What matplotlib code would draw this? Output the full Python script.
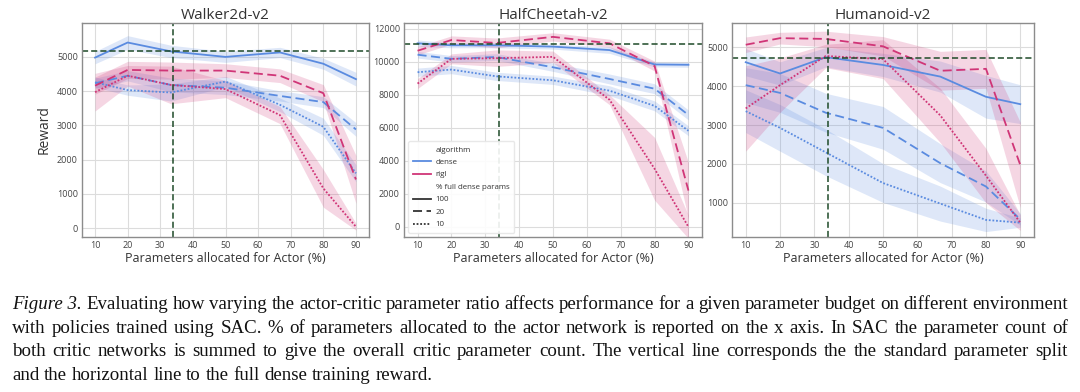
import matplotlib
matplotlib.use("Agg")
import matplotlib.pyplot as plt
from matplotlib.lines import Line2D
import numpy as np

X = [10, 20, 33.3, 50, 66.7, 80, 90]
VLINE_X = 34
ENVS = ["Walker2d-v2", "HalfCheetah-v2", "Humanoid-v2"]

# Walker2d-v2
WALKER_DENSE_100 = [4980, 5420, 5160, 5000, 5130, 4800, 4350]
WALKER_DENSE_100_ERR = [180, 200, 180, 160, 150, 160, 200]
WALKER_DENSE_20 = [4230, 4450, 4180, 4100, 3860, 3680, 2880]
WALKER_DENSE_20_ERR = [150, 150, 200, 200, 150, 160, 200]
WALKER_DENSE_10 = [4260, 4030, 3960, 4280, 3600, 2960, 1600]
WALKER_DENSE_10_ERR = [150, 150, 250, 150, 200, 250, 250]
WALKER_RIGL_20 = [4160, 4620, 4600, 4600, 4450, 3940, 1420]
WALKER_RIGL_20_ERR = [250, 250, 250, 200, 200, 250, 700]
WALKER_RIGL_10 = [3970, 4450, 4180, 4060, 3300, 1160, 40]
WALKER_RIGL_10_ERR = [550, 300, 550, 250, 250, 550, 100]
WALKER_HLINE = 5160

# HalfCheetah-v2
CHEETAH_DENSE_100 = [11120, 11000, 11000, 10920, 10710, 9840, 9820]
CHEETAH_DENSE_100_ERR = [200, 150, 150, 150, 200, 150, 150]
CHEETAH_DENSE_20 = [10430, 10180, 10290, 9670, 8960, 8370, 6780]
CHEETAH_DENSE_20_ERR = [200, 200, 200, 250, 300, 300, 300]
CHEETAH_DENSE_10 = [9370, 9530, 9120, 8880, 8250, 7330, 5820]
CHEETAH_DENSE_10_ERR = [250, 250, 250, 250, 300, 300, 300]
CHEETAH_RIGL_20 = [10670, 11320, 11140, 11510, 11120, 9740, 2200]
CHEETAH_RIGL_20_ERR = [250, 250, 300, 250, 250, 300, 1700]
CHEETAH_RIGL_10 = [8680, 10180, 10220, 10300, 7700, 3520, 0]
CHEETAH_RIGL_10_ERR = [300, 300, 500, 350, 300, 1900, 700]
CHEETAH_HLINE = 11050

# Humanoid-v2
HUMANOID_DENSE_100 = [4620, 4330, 4750, 4550, 4250, 3730, 3540]
HUMANOID_DENSE_100_ERR = [350, 300, 250, 300, 400, 550, 500]
HUMANOID_DENSE_20 = [4030, 3830, 3320, 2930, 2020, 1420, 575]
HUMANOID_DENSE_20_ERR = [450, 500, 500, 550, 500, 400, 150]
HUMANOID_DENSE_10 = [3360, 2930, 2300, 1510, 980, 560, 490]
HUMANOID_DENSE_10_ERR = [550, 600, 600, 500, 450, 300, 120]
HUMANOID_RIGL_20 = [5070, 5240, 5220, 5030, 4400, 4450, 1975]
HUMANOID_RIGL_20_ERR = [200, 150, 200, 250, 500, 500, 1100]
HUMANOID_RIGL_10 = [3430, 4030, 4780, 4700, 3250, 1700, 490]
HUMANOID_RIGL_10_ERR = [1100, 700, 300, 500, 700, 700, 200]
HUMANOID_HLINE = 4730

YLIMS = [(-260, 5990), (-610, 12350), (120, 5630)]
YTICKS = [range(0, 5001, 1000), range(0, 12001, 2000), range(1000, 5001, 1000)]

CAPTION = [
    "Figure 3. Evaluating how varying the actor-critic parameter ratio affects performance for a given parameter budget on different environment",
    "with policies trained using SAC. % of parameters allocated to the actor network is reported on the x axis. In SAC the parameter count of",
    "both critic networks is summed to give the overall critic parameter count. The vertical line corresponds the the standard parameter split",
    "and the horizontal line to the full dense training reward.",
]

DENSE_COLOR = "#5a8be0"
RIGL_COLOR = "#d03577"
REF_COLOR = "#1e4a28"
STYLES = {"100": "-", "20": (0, (5, 2.5)), "10": (0, (1, 1))}

plt.rcParams["font.family"] = ["Open Sans", "DejaVu Sans"]

datos = [
    {"dense": {"100": (WALKER_DENSE_100, WALKER_DENSE_100_ERR),
               "20": (WALKER_DENSE_20, WALKER_DENSE_20_ERR),
               "10": (WALKER_DENSE_10, WALKER_DENSE_10_ERR)},
     "rigl": {"20": (WALKER_RIGL_20, WALKER_RIGL_20_ERR),
              "10": (WALKER_RIGL_10, WALKER_RIGL_10_ERR)},
     "hline": WALKER_HLINE},
    {"dense": {"100": (CHEETAH_DENSE_100, CHEETAH_DENSE_100_ERR),
               "20": (CHEETAH_DENSE_20, CHEETAH_DENSE_20_ERR),
               "10": (CHEETAH_DENSE_10, CHEETAH_DENSE_10_ERR)},
     "rigl": {"20": (CHEETAH_RIGL_20, CHEETAH_RIGL_20_ERR),
              "10": (CHEETAH_RIGL_10, CHEETAH_RIGL_10_ERR)},
     "hline": CHEETAH_HLINE},
    {"dense": {"100": (HUMANOID_DENSE_100, HUMANOID_DENSE_100_ERR),
               "20": (HUMANOID_DENSE_20, HUMANOID_DENSE_20_ERR),
               "10": (HUMANOID_DENSE_10, HUMANOID_DENSE_10_ERR)},
     "rigl": {"20": (HUMANOID_RIGL_20, HUMANOID_RIGL_20_ERR),
              "10": (HUMANOID_RIGL_10, HUMANOID_RIGL_10_ERR)},
     "hline": HUMANOID_HLINE},
]

fig = plt.figure(figsize=(10.8, 3.92), dpi=100)
W, H = 1080, 392
cajas = [(82, 369), (404, 702), (732, 1034)]
top_px, bottom_px = 23, 237


def dibujar_panel(ax, env, d, ylim, yticks):
    colores = {"dense": DENSE_COLOR, "rigl": RIGL_COLOR}
    for alg in ("dense", "rigl"):
        for nivel, (media, err) in d[alg].items():
            media = np.array(media, dtype=float)
            err = np.array(err, dtype=float)
            ax.fill_between(X, media - err, media + err, color=colores[alg],
                            alpha=0.2, linewidth=0)
            ax.plot(X, media, color=colores[alg], linestyle=STYLES[nivel], lw=1.3)
    ax.axhline(d["hline"], color=REF_COLOR, ls=(0, (4, 2)), lw=1.1)
    ax.axvline(VLINE_X, color=REF_COLOR, ls=(0, (4, 2)), lw=1.1)

    ax.set_xlim(6, 94)
    ax.set_ylim(*ylim)
    ax.set_xticks(range(10, 91, 10))
    ax.set_yticks(list(yticks))
    ax.grid(True, color="#dcdcdc", lw=0.8)
    ax.set_axisbelow(True)
    for s in ax.spines.values():
        s.set_color("#8c8c8c")
        s.set_linewidth(1.0)
    ax.tick_params(axis="both", labelsize=6.5, colors="#444444", length=0, pad=3)
    ax.set_title(env, fontsize=11, color="#333333", pad=3)
    ax.set_xlabel("Parameters allocated for Actor (%)", fontsize=9, color="#333333", labelpad=1)


axes = []
for i, (l, r) in enumerate(cajas):
    ax = fig.add_axes([l / W, 1 - bottom_px / H, (r - l) / W, (bottom_px - top_px) / H])
    dibujar_panel(ax, ENVS[i], datos[i], YLIMS[i], YTICKS[i])
    axes.append(ax)

axes[0].set_ylabel("Reward", fontsize=10, color="#333333", labelpad=4)

vacio = Line2D([], [], color="none")
handles = [vacio, Line2D([], [], color=DENSE_COLOR, lw=1.3),
           Line2D([], [], color=RIGL_COLOR, lw=1.3), vacio,
           Line2D([], [], color="#333333", lw=1.3, ls=STYLES["100"]),
           Line2D([], [], color="#333333", lw=1.3, ls=STYLES["20"]),
           Line2D([], [], color="#333333", lw=1.3, ls=STYLES["10"])]
labels = ["algorithm", "dense", "rigl", "% full dense params", "100", "20", "10"]
leg = axes[1].legend(handles, labels, loc="lower left", fontsize=5.7, frameon=True,
                     handlelength=2.3, handletextpad=0.6, labelspacing=0.62,
                     borderpad=0.6, fancybox=True, framealpha=0.9,
                     bbox_to_anchor=(0.0, 0.0))
leg.get_frame().set_edgecolor("#e6e6e6")
for t in leg.get_texts():
    t.set_color("#333333")

# caption, justified word by word
fig.canvas.draw()
renderer = fig.canvas.get_renderer()
x0, x1 = 12, 1068
bases = [309, 333, 356, 380]
tam = 13.6
for n, (linea, yb) in enumerate(zip(CAPTION, bases)):
    palabras = linea.split(" ")
    estilos = ["normal"] * len(palabras)
    if n == 0:
        palabras = ["Figure 3."] + palabras[2:]
        estilos = ["italic"] + ["normal"] * (len(palabras) - 1)
    textos = []
    for p, st in zip(palabras, estilos):
        t = fig.text(0, 1 - yb / H, p, fontsize=tam, family="Liberation Serif",
                     style=st, va="baseline", ha="left", color="#111111")
        textos.append(t)
    anchos = [t.get_window_extent(renderer).width for t in textos]
    espacio = fig.text(0, 0, "a b", fontsize=tam, family="Liberation Serif")
    sp = espacio.get_window_extent(renderer).width
    espacio.set_text("ab")
    sp -= espacio.get_window_extent(renderer).width
    espacio.remove()
    if n < len(CAPTION) - 1:
        gap = (x1 - x0 - sum(anchos)) / (len(textos) - 1)
    else:
        gap = sp
    x = x0
    for t, a in zip(textos, anchos):
        t.set_x(x / W)
        x += a + gap

fig.savefig("out.png", dpi=100)
